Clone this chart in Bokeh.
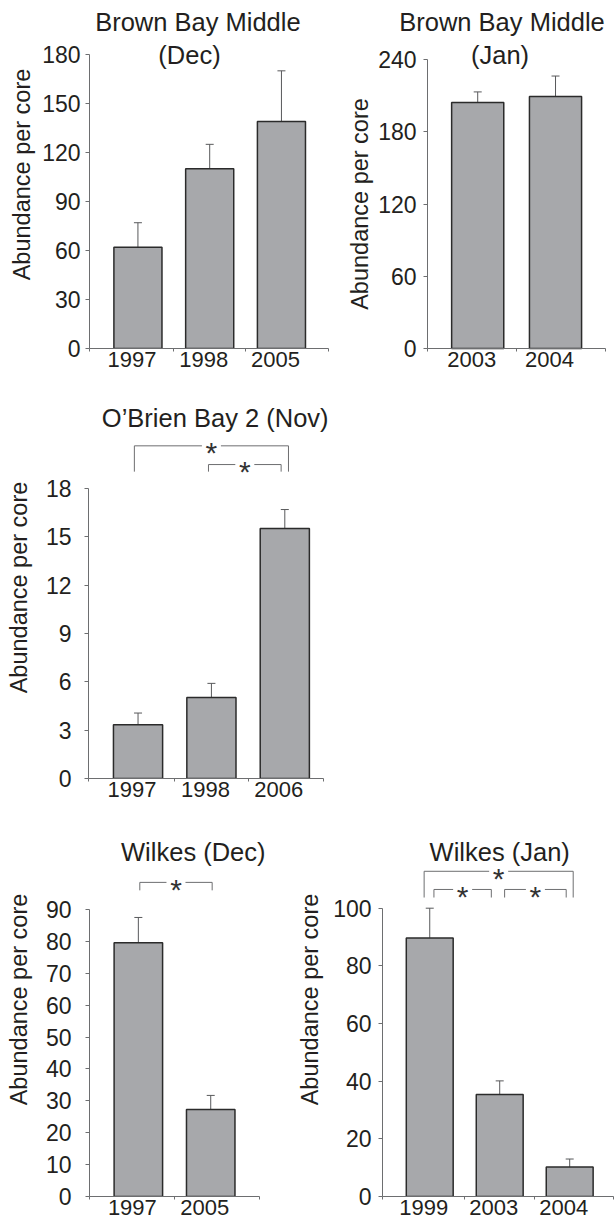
from bokeh.plotting import figure
from bokeh.models import FixedTicker, Whisker, TeeHead, Label, ColumnDataSource
from bokeh.layouts import column, row
from bokeh.embed import file_html
from bokeh.resources import INLINE
from bokeh.core.properties import value

# ---------------- data ----------------
bbm_dec_years = ["1997", "1998", "2005"]
bbm_dec_mean = [62, 110, 139]
bbm_dec_se = [15, 15, 31]
bbm_dec_yticks = [0, 30, 60, 90, 120, 150, 180]

bbm_jan_years = ["2003", "2004"]
bbm_jan_mean = [204.5, 209.5]
bbm_jan_se = [8.8, 17.0]
bbm_jan_yticks = [0, 60, 120, 180, 240]

obb_nov_years = ["1997", "1998", "2006"]
obb_nov_mean = [3.33, 5.03, 15.5]
obb_nov_se = [0.73, 0.87, 1.18]
obb_nov_yticks = [0, 3, 6, 9, 12, 15, 18]
obb_nov_pairs = [(0, 2), (1, 2)]

wil_dec_years = ["1997", "2005"]
wil_dec_mean = [79.6, 27.3]
wil_dec_se = [7.9, 4.4]
wil_dec_yticks = [0, 10, 20, 30, 40, 50, 60, 70, 80, 90]
wil_dec_pairs = [(0, 1)]

wil_jan_years = ["1999", "2003", "2004"]
wil_jan_mean = [89.7, 35.4, 10.2]
wil_jan_se = [10.3, 4.7, 2.8]
wil_jan_yticks = [0, 20, 40, 60, 80, 100]
wil_jan_pairs = [(0, 2), (0, 1), (1, 2)]

FONT = "Liberation Sans"
TXT = "#231f20"
AX = "#6d6e70"
BAR_W = 0.67
LABEL_SHIFT_PX = 6


def panel(years, mean, se, yticks, W, H, ml, mr, bb, x_start, x_end,
          axis_start, axis_end, y_end, lab_standoff, axlab_standoff, titles,
          brackets=(), leg_bottom=None, fixed_axis=False, y_start=0):
    n = len(years)
    fw = W - ml - mr
    ppu = fw / (x_end - x_start)
    p = figure(width=W, height=H, x_range=(x_start, x_end), y_range=(y_start, y_end),
               output_backend="svg", toolbar_location=None,
               min_border_left=ml, min_border_right=mr,
               min_border_top=0, min_border_bottom=bb)
    p.grid.visible = False
    p.outline_line_color = None
    p.background_fill_color = "white"
    p.border_fill_color = "white"

    idx = list(range(n))
    src = ColumnDataSource(dict(x=idx, top=mean,
                                upper=[m + s for m, s in zip(mean, se)]))
    p.vbar(x="x", top="top", bottom=0, width=BAR_W, source=src,
           fill_color="#a7a8ab", line_color="#2b2b2b", line_width=1.5)
    p.add_layout(Whisker(base="x", lower="top", upper="upper", source=src,
                         dimension="height", line_color="#58595b", line_width=1,
                         upper_head=TeeHead(size=8, line_color="#58595b", line_width=1),
                         lower_head=None))

    # y axis
    ya = p.yaxis[0]
    if fixed_axis:
        ya.fixed_location = axis_start
    ya.ticker = FixedTicker(ticks=yticks, minor_ticks=[])
    ya.bounds = (0, yticks[-1])
    ya.axis_line_color = AX
    ya.major_tick_line_color = AX
    ya.major_tick_out = 4
    ya.major_tick_in = 0
    ya.minor_tick_out = 0
    ya.minor_tick_in = 0
    ya.major_label_standoff = lab_standoff
    ya.major_label_text_font = FONT
    ya.major_label_text_font_size = "23px"
    ya.major_label_text_color = TXT
    ya.axis_label = "Abundance per core"
    ya.axis_label_text_font = FONT
    ya.axis_label_text_font_size = "23.5px"
    ya.axis_label_text_font_style = "normal"
    ya.axis_label_text_color = TXT
    ya.axis_label_standoff = int(round(axlab_standoff))

    # x axis: labels under each bar (slightly left, as in the original),
    # small ticks at the category boundaries
    xa = p.xaxis[0]
    if fixed_axis:
        xa.fixed_location = 0
    shift = LABEL_SHIFT_PX / ppu
    lab_pos = [i - shift for i in idx]
    bounds = [axis_start + 0.002] + [i + 0.5 for i in range(n - 1)] + [axis_end - 0.002]
    xa.ticker = FixedTicker(ticks=lab_pos, minor_ticks=bounds)
    xa.bounds = (axis_start, axis_end)
    xa.major_label_overrides = {lp: y for lp, y in zip(lab_pos, years)}
    xa.axis_line_color = AX
    xa.minor_tick_line_color = AX
    xa.major_tick_out = 0
    xa.major_tick_in = 0
    xa.minor_tick_out = 3
    xa.minor_tick_in = 0
    xa.major_label_standoff = 0
    xa.major_label_text_font = FONT
    xa.major_label_text_font_size = "22px"
    xa.major_label_text_color = TXT

    # titles: positions in pixels relative to the plot frame (layout, not data)
    for text, tx, ty in titles:
        p.add_layout(Label(x=tx, y=ty, x_units="screen", y_units="screen",
                           text=text, text_align="center",
                           text_baseline="middle", text_font=FONT,
                           text_font_size="25.5px", text_color=TXT))

    # significance brackets
    gap = 9.5 / ppu
    x0s, y0s, x1s, y1s, sx, sy = [], [], [], [], [], []
    for (bx0, bx1, by) in brackets:
        mid = (bx0 + bx1) / 2
        x0s += [bx0, mid + gap, bx0, bx1]
        x1s += [mid - gap, bx1, bx0, bx1]
        y0s += [by, by, by, by]
        y1s += [by, by, leg_bottom, leg_bottom]
        sx.append(mid)
        sy.append(by)
    if brackets:
        p.segment(x0=x0s, y0=y0s, x1=x1s, y1=y1s, line_color="#6d6e70", line_width=1)
        p.text(x=sx, y=sy, text=["*"] * len(sx), text_align="center",
               text_baseline="middle", y_offset=7,
               text_font=value(FONT), text_font_size="30px", text_color="#333333")
    return p


p1 = panel(bbm_dec_years, bbm_dec_mean, bbm_dec_se, bbm_dec_yticks,
           340, 372, 89, 0, 24, -0.675, 2.823, -0.675, 2.657, 213.06, 5, 4,
           [("Brown Bay Middle", 108.4, 326.5), ("(Dec)", 100, 293.5)])
# Jan panel: frame reaches left of its y axis (title is wider than the axis span)
p2 = panel(bbm_jan_years, bbm_jan_mean, bbm_jan_se, bbm_jan_yticks,
           274, 396, 5, 0, 24, -1.699, 1.758, -0.645, 1.643, 289.3, 7, 2,
           [("Brown Bay Middle", 156.5, 350.5), ("(Jan)", 154.5, 317.5)],
           fixed_axis=True, y_start=-19.95)

obb_br = []
obb_dx = [(-0.05, 0.05), (-0.04, -0.05)]
obb_lv = [20.63, 19.47]
for (i, j), (d0, d1), lv in zip(obb_nov_pairs, obb_dx, obb_lv):
    obb_br.append((i + d0, j + d1, lv))
p3 = panel(obb_nov_years, obb_nov_mean, obb_nov_se, obb_nov_yticks,
           340, 406, 88, 0, 24, -0.675, 2.759, -0.675, 2.528, 23.69, 13, 11,
           [("O\u2019Brien Bay 2 (Nov)", 126.7, 360.5)], obb_br, 19.03)

wd_br = []
for (i, j), (d0, d1), lv in zip(wil_dec_pairs, [(0.02, 0.02)], [98.5]):
    wd_br.append((i + d0, j + d1, lv))
p4 = panel(wil_dec_years, wil_dec_mean, wil_dec_se, wil_dec_yticks,
           292, 417, 89, 0, 23, -0.675, 2.13, -0.675, 1.678, 123.55, 14, 11,
           [("Wilkes (Dec)", 103.8, 344.3)], wd_br, 96.0)

wj_br = []
for (i, j), (d0, d1), lv in zip(wil_jan_pairs,
                                [(-0.08, 0.05), (0.06, -0.12), (0.07, -0.05)],
                                [112.8, 106.5, 106.5]):
    wj_br.append((i + d0, j + d1, lv))
p5 = panel(wil_jan_years, wil_jan_mean, wil_jan_se, wil_jan_yticks,
           322, 417, 90, 1, 23, -0.675, 2.626, -0.675, 2.626, 136.66, 7, 7,
           [("Wilkes (Jan)", 117.2, 344.3)], wj_br, 103.7)

layout = column(row(p1, p2), row(p3), row(p4, p5))
open("out.html", "w").write(file_html(layout, INLINE))
